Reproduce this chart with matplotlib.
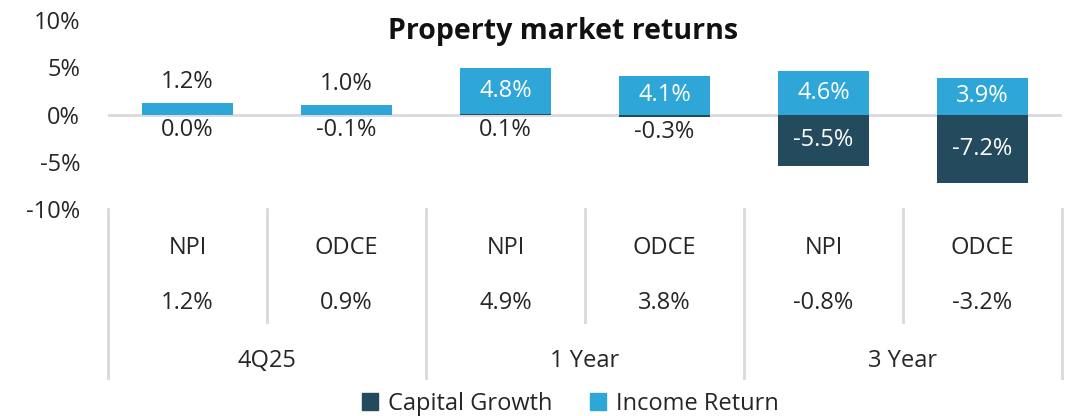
import matplotlib
matplotlib.use("Agg")
import matplotlib.pyplot as plt
from matplotlib.patches import Patch
import numpy as np

plt.rcParams['font.family'] = ['Open Sans', 'DejaVu Sans']

# data
indices = ["NPI", "ODCE", "NPI", "ODCE", "NPI", "ODCE"]
periods = ["4Q25", "1 Year", "3 Year"]
capital_growth = [0.0, -0.1, 0.1, -0.3, -5.5, -7.2]
income_return = [1.2, 1.0, 4.8, 4.1, 4.6, 3.9]
total_return = [1.2, 0.9, 4.9, 3.8, -0.8, -3.2]

dark = "#244a5e"
light = "#2ea7d8"
txt = "#262626"
grid = "#d9d9de"
fs = 17

W, H = 1074, 416
fig = plt.figure(figsize=(W / 100, H / 100), dpi=100)

def px_axes(x0, y0, x1, y1):
    return fig.add_axes([x0 / W, 1 - y1 / H, (x1 - x0) / W, (y1 - y0) / H])

ax = px_axes(108, 20, 1062, 209)
x = np.arange(len(indices))
bw = 0.57

# stack positives on positives, negatives on negatives
cap = np.array(capital_growth)
inc = np.array(income_return)
inc_base = np.where(cap > 0, cap, 0)
ax.bar(x, cap, bw, color=dark, zorder=2)
ax.bar(x, inc, bw, bottom=inc_base, color=light, zorder=2)
ax.axhline(0, color=grid, lw=2, zorder=1)

for i in range(len(x)):
    c, r = cap[i], inc[i]
    if abs(r) < 2:
        ax.annotate(f"{r:.1f}%", (x[i], inc_base[i] + r), xytext=(0, 21),
                    textcoords="offset pixels", ha="center", va="center",
                    fontsize=fs, color=txt)
    else:
        ax.text(x[i], inc_base[i] + r / 2, f"{r:.1f}%", ha="center", va="center",
                fontsize=fs, color="white", zorder=3)
    if abs(c) < 2:
        ax.annotate(f"{c:.1f}%", (x[i], min(c, 0)), xytext=(0, -15),
                    textcoords="offset pixels", ha="center", va="center",
                    fontsize=fs, color=txt)
    else:
        ax.text(x[i], c / 2, f"{c:.1f}%", ha="center", va="center",
                fontsize=fs, color="white", zorder=3)

ax.set_xlim(-0.5, len(x) - 0.5)
ax.set_ylim(-10, 10)
ax.set_yticks([10, 5, 0, -5, -10])
ax.set_yticklabels(["10%", "5%", "0%", "-5%", "-10%"])
ax.tick_params(axis="y", length=0, pad=20, labelsize=fs, labelcolor=txt)
ax.set_xticks([])
for s in ax.spines.values():
    s.set_visible(False)

fig.text(563 / W, 1 - 31 / H, "Property market returns", ha="center", va="center",
         fontsize=20.5, fontweight="bold", color="#111111")

# data table below
tb = px_axes(108, 209, 1062, 378)
tb.set_xlim(-0.5, len(x) - 0.5)
tb.set_ylim(0, 1)
tb.axis("off")
for b in np.arange(-0.5, len(x), 1.0):
    full = (int(b + 0.5) % 2 == 0)
    tb.plot([b, b], [0 if full else 0.33, 1], color=grid, lw=2, clip_on=False)
for i in range(len(x)):
    tb.text(x[i], 1 - 39 / 169, indices[i], ha="center", va="center", fontsize=fs, color=txt)
    tb.text(x[i], 1 - 94 / 169, f"{total_return[i]:.1f}%", ha="center", va="center",
            fontsize=fs, color=txt)
for j, p in enumerate(periods):
    tb.text(2 * j + 0.5, 1 - 152 / 169, p, ha="center", va="center", fontsize=fs, color=txt)

handles = [Patch(color=dark, label="Capital Growth"), Patch(color=light, label="Income Return")]
fig.legend(handles=handles, loc="center", bbox_to_anchor=(570 / W, 1 - 404 / H), ncol=2,
           frameon=False, fontsize=fs, handlelength=0.7, handleheight=0.7,
           handletextpad=0.4, columnspacing=1.6, labelcolor=txt)

fig.savefig("out.png", dpi=100)
